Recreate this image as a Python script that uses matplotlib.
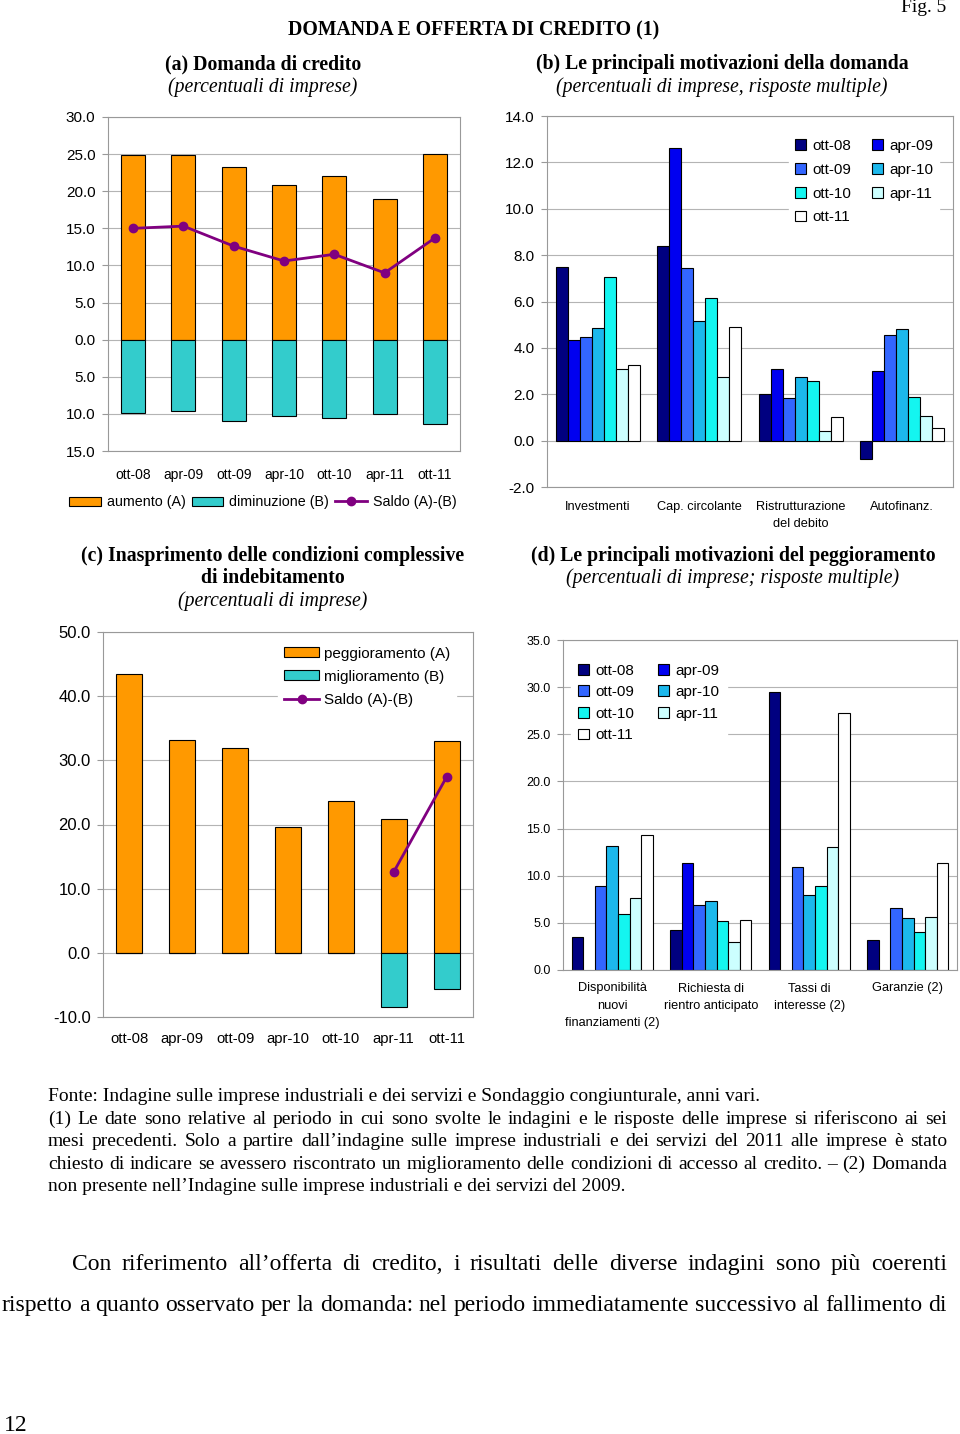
import matplotlib
matplotlib.use("Agg")
import matplotlib.pyplot as plt
import numpy as np
from matplotlib.patches import Patch
from matplotlib.lines import Line2D
from matplotlib.ticker import FuncFormatter

W, H = 960, 1434
SANS = "Liberation Sans"
SERIF = "Liberation Serif"

# --- data -------------------------------------------------------------
periods = ["ott-08", "apr-09", "ott-09", "apr-10", "ott-10", "apr-11", "ott-11"]

# (a) domanda di credito
aumento = [24.9, 24.9, 23.3, 20.8, 22.0, 18.9, 25.0]
diminuzione = [9.9, 9.6, 10.9, 10.3, 10.5, 10.0, 11.4]
saldo_a = [15.0, 15.3, 12.6, 10.6, 11.5, 9.0, 13.7]

# (b) motivazioni della domanda
cat_b = ["Investmenti", "Cap. circolante", "Ristrutturazione\ndel debito", "Autofinanz."]
vals_b = {
    "ott-08": [7.5, 8.4, 2.0, -0.8],
    "apr-09": [4.35, 12.6, 3.1, 3.0],
    "ott-09": [4.45, 7.45, 1.85, 4.55],
    "apr-10": [4.85, 5.15, 2.75, 4.8],
    "ott-10": [7.05, 6.15, 2.55, 1.9],
    "apr-11": [3.1, 2.75, 0.4, 1.05],
    "ott-11": [3.25, 4.9, 1.0, 0.55],
}

# (c) inasprimento delle condizioni
peggioramento = [43.5, 33.2, 31.9, 19.6, 23.6, 20.9, 33.0]
miglioramento = [0, 0, 0, 0, 0, -8.5, -5.7]
saldo_c = [np.nan, np.nan, np.nan, np.nan, np.nan, 12.6, 27.4]

# (d) motivazioni del peggioramento
cat_d = ["Disponibilità\nnuovi\nfinanziamenti (2)", "Richiesta di\nrientro anticipato",
         "Tassi di\ninteresse (2)", "Garanzie (2)"]
vals_d = {
    "ott-08": [3.5, 4.2, 29.5, 3.2],
    "apr-09": [np.nan, 11.3, np.nan, np.nan],
    "ott-09": [8.9, 6.9, 10.9, 6.6],
    "apr-10": [13.2, 7.3, 8.0, 5.5],
    "ott-10": [5.95, 5.2, 8.9, 4.0],
    "apr-11": [7.6, 3.0, 13.0, 5.6],
    "ott-11": [14.3, 5.35, 27.3, 11.4],
}

blues = ["#000080", "#0000F0", "#3366FF", "#1CB8EC", "#14F5F0", "#CCFFFF", "#FFFFFF"]
ORANGE = "#FF9900"
TEAL = "#33CCCC"
PURPLE = "#800080"

fig = plt.figure(figsize=(W / 100, H / 100), dpi=100)


def px_axes(left, top, right, bottom):
    return fig.add_axes([left / W, 1 - bottom / H, (right - left) / W, (bottom - top) / H])


def ftext(x, y, s, **kw):
    kw.setdefault("va", "center")
    return fig.text(x / W, 1 - y / H, s, **kw)


def style_axes(ax, ytick_size, xtick_size):
    for sp in ax.spines.values():
        sp.set_color("#999999")
        sp.set_linewidth(0.8)
    ax.yaxis.grid(True, color="#b4b4b4", lw=0.8)
    ax.set_axisbelow(True)
    ax.tick_params(axis="y", length=4, color="#999999", labelsize=ytick_size, pad=5)
    ax.tick_params(axis="x", length=0, labelsize=xtick_size, pad=9)
    for lab in ax.get_xticklabels() + ax.get_yticklabels():
        lab.set_fontfamily(SANS)


# --- (a) --------------------------------------------------------------
ax = px_axes(108, 117, 460, 451)
x = np.arange(len(periods))
ax.bar(x, aumento, width=0.48, color=ORANGE, edgecolor="black", lw=0.8)
ax.bar(x, [-v for v in diminuzione], width=0.48, color=TEAL, edgecolor="black", lw=0.8)
ax.plot(x, saldo_a, color=PURPLE, lw=2, marker="o", ms=6)
ax.set_xlim(-0.5, len(periods) - 0.5)
ax.set_ylim(-15, 30)
ax.set_yticks(np.arange(-15, 31, 5))
ax.yaxis.set_major_formatter(FuncFormatter(lambda v, p: f"{abs(v):.1f}"))
ax.set_xticks(x)
ax.set_xticklabels(periods)
style_axes(ax, 11, 10)
ax.tick_params(axis="x", pad=12)
h = [Patch(facecolor=ORANGE, edgecolor="black", lw=0.8),
     Patch(facecolor=TEAL, edgecolor="black", lw=0.8),
     Line2D([], [], color=PURPLE, lw=2, marker="o", ms=6)]
ax.legend(h, ["aumento (A)", "diminuzione (B)", "Saldo (A)-(B)"], loc="center",
          bbox_to_anchor=(0.44, -0.153), ncol=3, frameon=False, handlelength=2.2,
          handleheight=0.6, columnspacing=0.45, handletextpad=0.4,
          prop={"family": SANS, "size": 10.3})

# --- (b) --------------------------------------------------------------
ax = px_axes(547, 116, 953, 487)
xb = np.arange(len(cat_b))
bw = 0.118
for i, (name, vals) in enumerate(vals_b.items()):
    ax.bar(xb + (i - 3) * bw, vals, width=bw, color=blues[i], edgecolor="black",
           lw=0.8, label=name)
ax.set_xlim(-0.5, len(cat_b) - 0.5)
ax.set_ylim(-2, 14)
ax.set_yticks(np.arange(-2, 15, 2))
ax.yaxis.set_major_formatter(FuncFormatter(lambda v, p: f"{v:.1f}"))
ax.set_xticks(xb)
ax.set_xticklabels(cat_b, va="top", linespacing=1.55)
style_axes(ax, 11, 9.2)
ax.tick_params(axis="x", pad=10)
hs, ls = ax.get_legend_handles_labels()
order = [0, 2, 4, 6, 1, 3, 5]
ax.legend([hs[k] for k in order], [ls[k] for k in order], loc="upper right",
          bbox_to_anchor=(0.985, 0.975), ncol=2, framealpha=1, edgecolor="white",
          fancybox=False, handlelength=0.7, handleheight=0.7, handletextpad=0.4,
          columnspacing=1.4, labelspacing=0.64, borderpad=0.4,
          prop={"family": SANS, "size": 11})

# --- (c) --------------------------------------------------------------
ax = px_axes(103, 632, 473, 1017)
ax.bar(x, peggioramento, width=0.49, color=ORANGE, edgecolor="black", lw=0.8)
ax.bar(x, miglioramento, width=0.49, color=TEAL, edgecolor="black", lw=0.8)
ax.plot(x, saldo_c, color=PURPLE, lw=2, marker="o", ms=6)
ax.set_xlim(-0.5, len(periods) - 0.5)
ax.set_ylim(-10, 50)
ax.set_yticks(np.arange(-10, 51, 10))
ax.yaxis.set_major_formatter(FuncFormatter(lambda v, p: f"{v:.1f}"))
ax.set_xticks(x)
ax.set_xticklabels(periods)
style_axes(ax, 12, 10.7)
ax.tick_params(axis="x", pad=11)
ax.legend(h, ["peggioramento (A)", "miglioramento (B)", "Saldo (A)-(B)"],
          loc="upper right", bbox_to_anchor=(0.975, 0.998), framealpha=1,
          edgecolor="white", fancybox=False, handlelength=2.3, handleheight=0.6,
          handletextpad=0.3, labelspacing=0.6, prop={"family": SANS, "size": 11})

# --- (d) --------------------------------------------------------------
ax = px_axes(563, 640, 957, 970)
xd = np.arange(len(cat_d))
bw = 0.117
for i, (name, vals) in enumerate(vals_d.items()):
    ax.bar(xd + (i - 3) * bw, vals, width=bw, color=blues[i], edgecolor="black",
           lw=0.8, label=name)
ax.set_xlim(-0.5, len(cat_d) - 0.5)
ax.set_ylim(0, 35)
ax.set_yticks(np.arange(0, 36, 5))
ax.yaxis.set_major_formatter(FuncFormatter(lambda v, p: f"{v:.1f}"))
ax.set_xticks(xd)
ax.set_xticklabels(cat_d, va="top", linespacing=1.6)
style_axes(ax, 9, 9.2)
ax.tick_params(axis="x", pad=9)
hs, ls = ax.get_legend_handles_labels()
ax.legend([hs[k] for k in order], [ls[k] for k in order], loc="upper left",
          bbox_to_anchor=(0.0, 0.975), ncol=2, framealpha=1, edgecolor="white",
          fancybox=False, handlelength=0.7, handleheight=0.7, handletextpad=0.4,
          columnspacing=1.6, labelspacing=0.5, borderpad=0.5,
          prop={"family": SANS, "size": 11})

# --- titles -----------------------------------------------------------
TS = 14.2
ftext(946, 8, "Fig. 5", ha="right", family=SERIF, size=14)
ftext(474, 30, "DOMANDA E OFFERTA DI CREDITO (1)", ha="center", family=SERIF,
      size=TS, weight="bold")
ftext(263, 64, "(a) Domanda di credito", ha="center", family=SERIF, size=TS, weight="bold")
ftext(263, 87, "(percentuali di imprese)", ha="center", family=SERIF, size=TS, style="italic")
ftext(722, 64, "(b) Le principali motivazioni della domanda", ha="center", family=SERIF,
      size=TS, weight="bold")
ftext(722, 87, "(percentuali di imprese, risposte multiple)", ha="center", family=SERIF,
      size=TS, style="italic")
ftext(273, 556, "(c) Inasprimento delle condizioni complessive", ha="center",
      family=SERIF, size=TS, weight="bold")
ftext(273, 578, "di indebitamento", ha="center", family=SERIF, size=TS, weight="bold")
ftext(273, 601, "(percentuali di imprese)", ha="center", family=SERIF, size=TS, style="italic")
ftext(733, 556, "(d) Le principali motivazioni del peggioramento", ha="center",
      family=SERIF, size=TS, weight="bold")
ftext(733, 578, "(percentuali di imprese; risposte multiple)", ha="center", family=SERIF,
      size=TS, style="italic")


# --- footnotes and body text (y = baseline) ----------------------------
def justified(y, x0, x1, s, size):
    """place words so the line fills x0..x1"""
    renderer = fig.canvas.get_renderer()
    words = s.split()
    objs = [ftext(0, y, w, family=SERIF, size=size, va="baseline") for w in words]
    widths = [o.get_window_extent(renderer).width for o in objs]
    gap = (x1 - x0 - sum(widths)) / (len(words) - 1)
    xx = x0
    for o, w in zip(objs, widths):
        o.set_x(xx / W)
        xx += w + gap


FN = 14
ftext(48, 1101, "Fonte: Indagine sulle imprese industriali e dei servizi e Sondaggio "
      "congiunturale, anni vari.", family=SERIF, size=FN, va="baseline")
justified(1124, 48, 947, "(1) Le date sono relative al periodo in cui sono svolte le "
          "indagini e le risposte delle imprese si riferiscono ai sei", FN)
justified(1146, 48, 947, "mesi precedenti. Solo a partire dall’indagine sulle imprese "
          "industriali e dei servizi del 2011 alle imprese è stato", FN)
justified(1169, 48, 947, "chiesto di indicare se avessero riscontrato un miglioramento "
          "delle condizioni di accesso al credito. – (2) Domanda", FN)
ftext(48, 1191, "non presente nell’Indagine sulle imprese industriali e dei servizi del 2009.",
      family=SERIF, size=FN, va="baseline")

BS = 17
justified(1270, 72, 947, "Con riferimento all’offerta di credito, i risultati delle "
          "diverse indagini sono più coerenti", BS)
justified(1311, 2, 947, "rispetto a quanto osservato per la domanda: nel periodo "
          "immediatamente successivo al fallimento di", BS)
ftext(4, 1431, "12", family=SERIF, size=BS, va="baseline")

fig.savefig("out.png", dpi=100)
